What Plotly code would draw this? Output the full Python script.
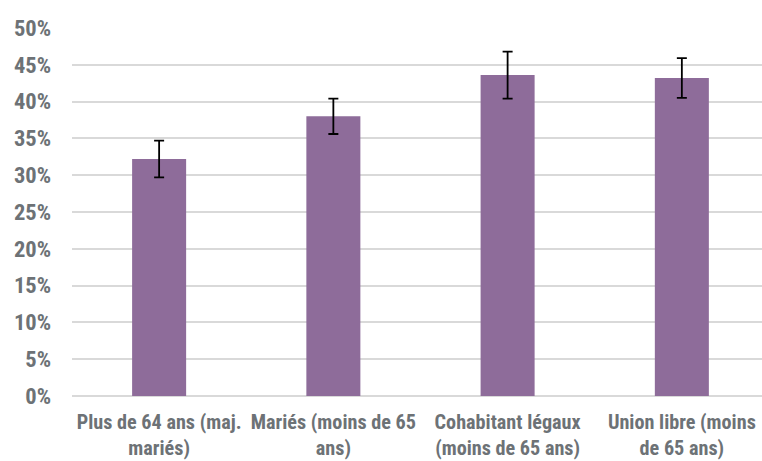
import plotly.graph_objects as go

categories = ["Plus de 64 ans (maj.<br>mariés)", "Mariés (moins de 65<br>ans)",
              "Cohabitant légaux<br>(moins de 65 ans)", "Union libre (moins<br>de 65 ans)"]
values = [0.322, 0.380, 0.436, 0.432]
errors = [0.025, 0.024, 0.032, 0.027]
tick_vals = [i * 0.05 for i in range(11)]
tick_text = [f"{i*5}%" for i in range(11)]

font_fam = "Liberation Sans Narrow, Roboto Condensed, Arial Narrow, sans-serif"
txt_col = "#6d7276"

fig = go.Figure(go.Bar(
    x=list(range(len(categories))), y=values,
    marker=dict(color="#8e6c9a", line=dict(width=0)),
    width=0.31,
    error_y=dict(type="data", array=errors, visible=True, color="black", thickness=1.8, width=5),
))

fig.update_layout(
    width=762, height=461,
    margin=dict(l=72, r=0, t=28, b=65),
    plot_bgcolor="white", paper_bgcolor="white",
    showlegend=False,
    font=dict(family=font_fam, color=txt_col, size=18),
    xaxis=dict(range=[-0.5, 3.46], tickvals=list(range(len(categories))), ticktext=categories,
               showgrid=False, zeroline=False, showline=False, ticks="", automargin=False,
               ticklabelstandoff=12,
               tickfont=dict(family=font_fam, size=20.2, color=txt_col, weight="bold")),
    yaxis=dict(range=[0, 0.5], tickvals=tick_vals, ticktext=tick_text,
               showgrid=True, gridcolor="#d9d9d9", gridwidth=1.5,
               zeroline=True, zerolinecolor="#d9d9d9", zerolinewidth=1.5,
               showline=False, ticks="", ticklabelstandoff=20, automargin=False,
               tickfont=dict(family=font_fam, size=22.5, color=txt_col, weight="bold")),
    bargap=0.69,
)

fig.write_html("out.html", config={"displayModeBar": False},
               post_script="document.body.style.margin='0';document.body.style.overflow='hidden';")
